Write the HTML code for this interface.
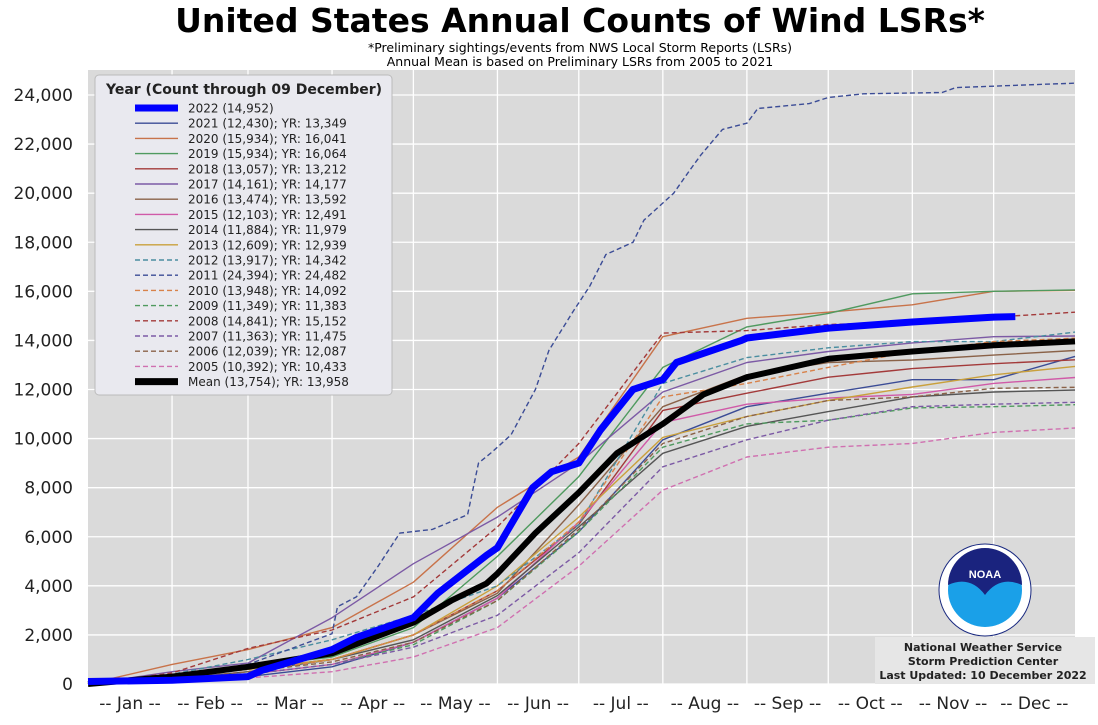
<!DOCTYPE html>
<html><head><meta charset="utf-8"><style>
body{margin:0;background:#fff;width:1098px;height:720px;overflow:hidden;font-family:"Liberation Sans","DejaVu Sans",sans-serif}
</style></head><body>
<svg id="chart" width="1098" height="720" xmlns="http://www.w3.org/2000/svg">
<text x="580" y="32" text-anchor="middle" font-size="33" font-weight="bold" fill="#000" font-family="DejaVu Sans, sans-serif">United States Annual Counts of Wind LSRs*</text>
<text x="580" y="52" text-anchor="middle" font-size="12.5" font-family="DejaVu Sans, sans-serif">*Preliminary sightings/events from NWS Local Storm Reports (LSRs)</text>
<text x="580" y="66" text-anchor="middle" font-size="12.5" font-family="DejaVu Sans, sans-serif">Annual Mean is based on Preliminary LSRs from 2005 to 2021</text>
<rect x="88" y="70" width="987" height="614" fill="#dadada"/>
<g id="grid"></g><g id="series"></g><g id="axes"></g><g id="legend"></g>
<g>
<circle cx="985" cy="590" r="46" fill="#fff" stroke="#1a2a80" stroke-width="1"/>
<circle cx="985" cy="590" r="37" fill="#1aa0e8"/>
<path d="M948,585 A37,37 0 0 1 1022,585 Q1000,575 985,595 Q970,575 948,585Z" fill="#1a237e"/>
<text x="985" y="578" text-anchor="middle" font-size="11" font-weight="bold" fill="#fff">NOAA</text>
</g>
<rect x="875" y="637" width="220" height="47" fill="#e6e6e6"/>
<text font-size="11" font-weight="bold" text-anchor="middle" font-family="DejaVu Sans, sans-serif" fill="#222"><tspan x="983" y="651">National Weather Service</tspan><tspan x="983" y="665">Storm Prediction Center</tspan><tspan x="983" y="679">Last Updated: 10 December 2022</tspan></text>
</svg>
<script>
const monthDays=[1,32,60,91,121,152,182,213,244,274,305,335,365];
const monthLabels=["-- Jan --","-- Feb --","-- Mar --","-- Apr --","-- May --","-- Jun --","-- Jul --","-- Aug --","-- Sep --","-- Oct --","-- Nov --","-- Dec --"];
const yTicks=[0,2000,4000,6000,8000,10000,12000,14000,16000,18000,20000,22000,24000];
const days2022=[1,32,60,65,91,100,121,130,148,152,165,172,182,190,202,213,218,242,244,274,305,335,343];
const vals2022=[0.1,0.15,0.3,0.55,1.4,1.9,2.7,3.7,5.25,5.55,8.0,8.65,9.0,10.35,12.0,12.4,13.1,14.0,14.1,14.5,14.75,14.95,14.97];
const daysMean=[1,32,60,91,121,135,148,152,166,182,196,213,228,244,274,305,335,365];
const valsMean=[0,0.3,0.7,1.25,2.5,3.4,4.1,4.5,6.15,7.8,9.4,10.6,11.8,12.5,13.25,13.55,13.8,13.96];
const days2011=[1,32,60,91,93,100,108,116,128,141,145,150,157,166,171,180,186,192,202,206,217,223,227,235,244,248,267,274,287,316,321,356,365];
const vals2011=[0,0.3,0.8,2.05,3.15,3.55,4.8,6.15,6.3,6.9,9.0,9.45,10.15,12.0,13.6,15.2,16.2,17.5,18.0,18.9,20.0,20.95,21.55,22.6,22.85,23.45,23.65,23.9,24.05,24.1,24.3,24.45,24.48];
const years=["2021","2020","2019","2018","2017","2016","2015","2014","2013","2012","2010","2009","2008","2007","2006","2005"];
const s2021=[0,.15,.3,.7,1.7,3.5,6.2,9.95,11.3,11.85,12.4,12.4,13.35];
const s2020=[0,.8,1.4,2.3,4.15,7.2,9.25,14.15,14.9,15.15,15.45,16.0,16.04];
const s2019=[0,.3,.7,1.1,2.3,5.2,8.45,12.9,14.55,15.1,15.9,16.0,16.06];
const s2018=[0,.3,.6,1.0,2.0,3.8,6.5,11.15,11.85,12.5,12.85,13.05,13.21];
const s2017=[0,.5,.85,2.7,4.9,6.8,9.0,11.9,13.1,13.55,13.9,14.15,14.18];
const s2016=[0,.3,.6,1.0,2.0,3.7,7.3,11.3,12.6,13.1,13.2,13.4,13.59];
const s2015=[0,.2,.4,.8,1.7,3.5,6.6,10.65,11.4,11.65,11.8,12.25,12.49];
const s2014=[0,.2,.5,1.0,1.8,3.6,6.4,9.4,10.5,11.1,11.7,11.9,11.98];
const s2013=[0,.3,.6,1.0,2.0,4.0,6.8,10.05,10.9,11.55,12.1,12.6,12.94];
const s2012=[0,.4,1.0,1.8,2.8,4.0,6.5,12.25,13.3,13.7,13.95,13.95,14.34];
const s2010=[0,.2,.5,1.0,2.0,3.8,6.6,11.7,12.25,12.9,13.55,13.95,14.09];
const s2009=[0,.2,.4,.8,1.6,3.4,6.2,9.65,10.6,10.75,11.25,11.3,11.38];
const s2008=[0,.45,1.45,2.2,3.55,6.4,9.8,14.3,14.4,14.65,14.75,14.95,15.15];
const s2007=[0,.2,.4,.8,1.5,2.8,5.35,8.85,9.95,10.75,11.3,11.4,11.48];
const s2006=[0,.2,.5,.9,1.7,3.4,6.3,9.8,10.9,11.55,11.7,12.05,12.09];
const s2005=[0,.1,.25,.5,1.1,2.3,4.8,7.9,9.25,9.65,9.8,10.25,10.43];
const legendLabels=["2022 (14,952)","2021 (12,430); YR: 13,349","2020 (15,934); YR: 16,041","2019 (15,934); YR: 16,064","2018 (13,057); YR: 13,212","2017 (14,161); YR: 14,177","2016 (13,474); YR: 13,592","2015 (12,103); YR: 12,491","2014 (11,884); YR: 11,979","2013 (12,609); YR: 12,939","2012 (13,917); YR: 14,342","2011 (24,394); YR: 24,482","2010 (13,948); YR: 14,092","2009 (11,349); YR: 11,383","2008 (14,841); YR: 15,152","2007 (11,363); YR: 11,475","2006 (12,039); YR: 12,087","2005 (10,392); YR: 10,433","Mean (13,754); YR: 13,958"];
const NS="http://www.w3.org/2000/svg";
const X0=88,X1=1075,Y0=684,Y24=95;
const xs=d=>X0+(d-1)/364*(X1-X0);
const ys=v=>Y0-v/24000*(Y0-Y24);
function mk(tag,attrs,parent){const e=document.createElementNS(NS,tag);for(const k in attrs)e.setAttribute(k,attrs[k]);parent.appendChild(e);return e;}
const grid=document.getElementById('grid'),axes=document.getElementById('axes'),ser=document.getElementById('series'),leg=document.getElementById('legend');
yTicks.forEach(t=>{
 const l=mk('line',{x1:X0,x2:X1,y1:ys(t),y2:ys(t),stroke:'#fff','stroke-width':1.3},grid);
 
 
 const tx=mk('text',{x:73,y:ys(t)+6,'text-anchor':'end','font-size':17,fill:'#222','font-family':'DejaVu Sans, sans-serif'},axes);
 tx.textContent=t.toLocaleString('en-US');
 
 
});
monthDays.slice(1,12).forEach(d=>{
 const l=mk('line',{x1:xs(d),x2:xs(d),y1:70,y2:Y0,stroke:'#fff','stroke-width':1.3},grid);
 
 
});
monthLabels.forEach((m,i)=>{
 const c=(xs(monthDays[i])+xs(monthDays[i+1]))/2;
 const tx=mk('text',{x:c,y:709,'text-anchor':'middle','font-size':17,fill:'#222','font-family':'DejaVu Sans, sans-serif'},axes);
 tx.textContent=m;
 
 
});
const colors={"2021":"#3b4c96","2020":"#c8734a","2019":"#4f9a5f","2018":"#a33a3a","2017":"#7c5aa5","2016":"#8a6248","2015":"#d05aa8","2014":"#555555","2013":"#c9a03c","2012":"#4a8ea0","2011":"#3b4c96","2010":"#d8824a","2009":"#4f9a5f","2008":"#a33a3a","2007":"#7c5aa5","2006":"#8a6248","2005":"#d070b0"};
const seriesMap={"2021":s2021,"2020":s2020,"2019":s2019,"2018":s2018,"2017":s2017,"2016":s2016,"2015":s2015,"2014":s2014,"2013":s2013,"2012":s2012,"2010":s2010,"2009":s2009,"2008":s2008,"2007":s2007,"2006":s2006,"2005":s2005};
function line(days,vals,color,w,dash,name){
 const p=days.map((d,i)=>(i?'L':'M')+xs(d).toFixed(1)+','+ys(vals[i]*1000).toFixed(1)).join('');
 const e=mk('path',{d:p,fill:'none',stroke:color,'stroke-width':w,'stroke-linejoin':'round'},ser);
 if(dash)e.setAttribute('stroke-dasharray',dash);
 
 
}
years.forEach(y=>{const dashed=+y<=2012;line(monthDays,seriesMap[y],colors[y],1.4,dashed?'5,3':null,'line-'+y);});
line(days2011,vals2011,colors["2011"],1.4,'5,3','line-2011');
line(daysMean,valsMean,'#000',6,null,'line-mean');
line(days2022,vals2022,'#0000ff',7,null,'line-2022');
const lb=mk('rect',{x:95,y:75,width:297,height:320,rx:4,fill:'#e9e9ef',stroke:'#bbb'},leg);


const lt=mk('text',{x:244,y:94,'text-anchor':'middle','font-size':14,'font-weight':'bold',fill:'#222','font-family':'DejaVu Sans, sans-serif'},leg);
lt.textContent='Year (Count through 09 December)';


const legOrder=["2022","2021","2020","2019","2018","2017","2016","2015","2014","2013","2012","2011","2010","2009","2008","2007","2006","2005","mean"];
legOrder.forEach((k,i)=>{
 const y=108+i*15.2;
 const col=k==="2022"?'#0000ff':k==="mean"?'#000':colors[k];
 const w=(k==="2022"||k==="mean")?7:1.4;
 const l=mk('line',{x1:135,x2:178,y1:y,y2:y,stroke:col,'stroke-width':w},leg);
 if(k!=="mean"&&k!=="2022"&&+k<=2012)l.setAttribute('stroke-dasharray','5,3');
 
 
 const t=mk('text',{x:188,y:y+4.5,'font-size':12,fill:'#222','font-family':'DejaVu Sans, sans-serif'},leg);
 t.textContent=legendLabels[i];
 
 
});
</script>
</body></html>
